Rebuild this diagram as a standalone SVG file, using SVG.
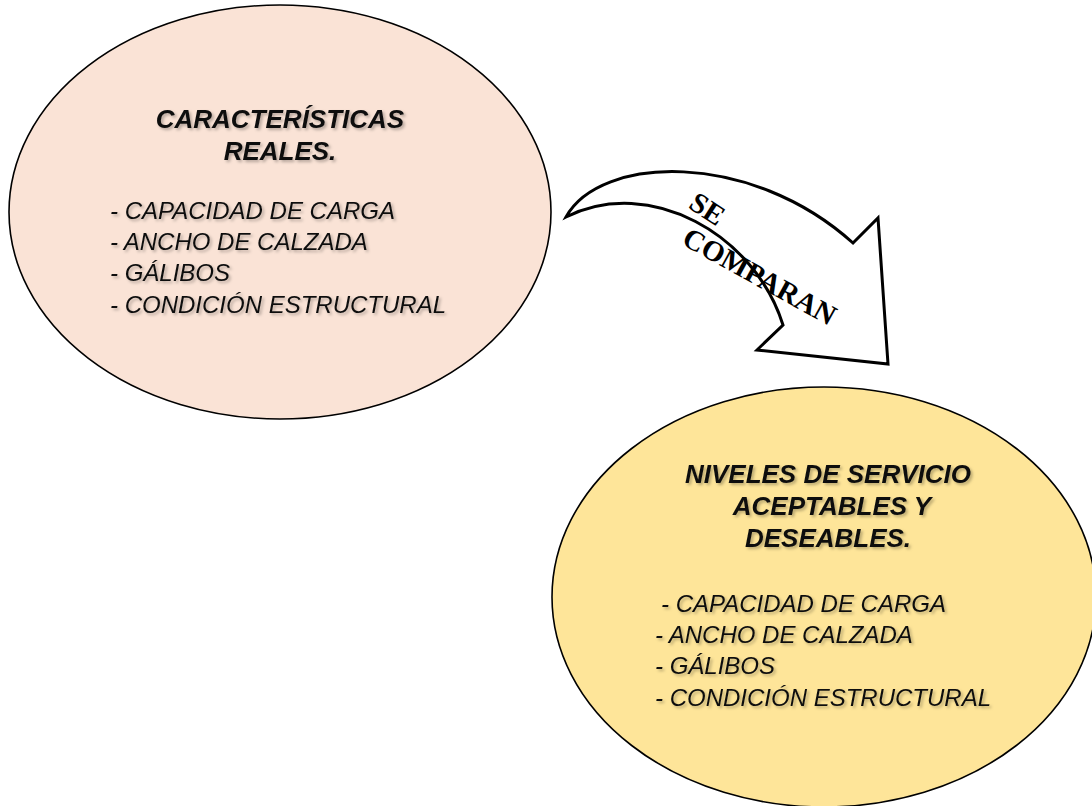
<svg xmlns="http://www.w3.org/2000/svg" width="1092" height="806" viewBox="0 0 1092 806">
  <defs>
    <filter id="tshadow" x="-10%" y="-20%" width="120%" height="160%">
      <feDropShadow dx="2" dy="2" stdDeviation="1.5" flood-color="#000" flood-opacity="0.28"/>
    </filter>
  </defs>
  <style>
    .ell { stroke: #000; stroke-width: 1.6; }
    .title { font-family: "Liberation Sans", Arial, sans-serif; font-size: 26px; font-weight: bold; font-style: italic; fill: #111; text-anchor: middle; }
    .item { font-family: "Liberation Sans", Arial, sans-serif; font-size: 24px; font-style: italic; fill: #111; }
    .arrowtxt { font-family: "Liberation Serif", "Times New Roman", serif; font-size: 29px; font-weight: bold; fill: #000; text-anchor: middle; }
    .arrow { fill: #fff; stroke: #000; stroke-width: 3; stroke-linejoin: miter; }
  </style>

  <g id="node-reales">
    <ellipse class="ell" cx="280" cy="212" rx="271" ry="207" fill="#FAE3D6"/>
    <g filter="url(#tshadow)">
      <text class="title" x="280" y="128">CARACTERÍSTICAS</text>
      <text class="title" x="280" y="160">REALES.</text>
      <text class="item" x="110" y="219">- CAPACIDAD DE CARGA</text>
      <text class="item" x="110" y="250">- ANCHO DE CALZADA</text>
      <text class="item" x="110" y="281">- GÁLIBOS</text>
      <text class="item" x="110" y="313">- CONDICIÓN ESTRUCTURAL</text>
    </g>
  </g>

  <g id="node-niveles">
    <ellipse class="ell" cx="824" cy="597" rx="272" ry="210" fill="#FEE599" stroke-width="2"/>
    <g filter="url(#tshadow)">
      <text class="title" x="828" y="483">NIVELES DE SERVICIO</text>
      <text class="title" x="832" y="515">ACEPTABLES Y</text>
      <text class="title" x="828" y="547">DESEABLES.</text>
      <text class="item" x="661" y="612">- CAPACIDAD DE CARGA</text>
      <text class="item" x="655" y="643">- ANCHO DE CALZADA</text>
      <text class="item" x="655" y="674">- GÁLIBOS</text>
      <text class="item" x="655" y="706">- CONDICIÓN ESTRUCTURAL</text>
    </g>
  </g>

  <g id="connectors">
    <path class="arrow" d="M566,217 C600,155 750,150 853,243 L878,218 L888,364 L757,350 L783,325 C755,235 650,175 566,217 Z"/>
    <text class="arrowtxt" transform="translate(702,217) rotate(33)" x="0" y="0">SE</text>
    <text class="arrowtxt" transform="translate(755,285) rotate(29)" x="0" y="0">COMPARAN</text>
  </g>
</svg>
